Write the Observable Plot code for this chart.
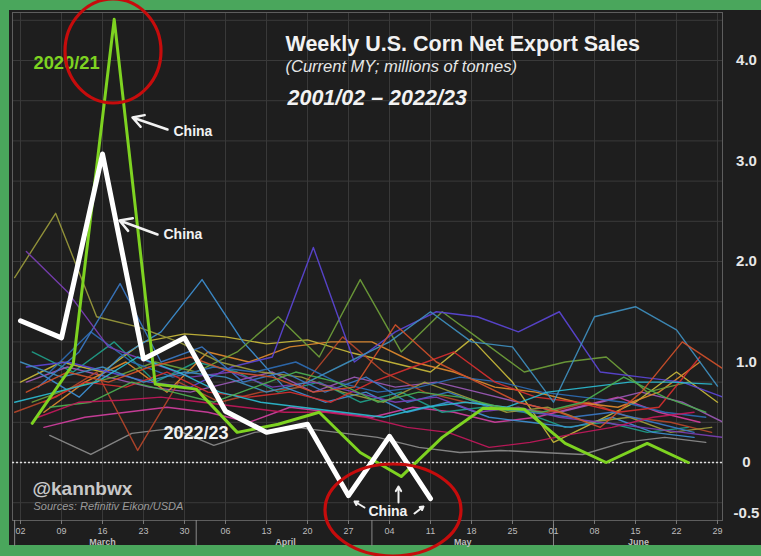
<!DOCTYPE html>
<html>
<head>
<meta charset="utf-8">
<script src="https://cdn.jsdelivr.net/npm/d3@7"></script>
<script src="https://cdn.jsdelivr.net/npm/@observablehq/plot@0.6"></script>
<style>
html, body { margin: 0; padding: 0; background: #4aa65c; }
#chart { position: absolute; left: 0; top: 0; }
</style>
</head>
<body>
<div id="chart"></div>
<script>
// ---------- DATA (millions of tonnes, weekly net export sales, current MY) ----------
const seasons = ["2001/02","2002/03","2003/04","2004/05","2005/06","2006/07","2007/08","2008/09","2009/10","2010/11",
                 "2011/12","2012/13","2013/14","2014/15","2015/16","2016/17","2017/18","2018/19","2019/20","2021/22"];
// day of March of the first weekly report date in each season's spring
const firstMarchDay = [7,6,4,3,2,1,6,5,4,3,1,7,6,5,3,2,1,7,5,3];

const s2001_02 = [0.27,0.08,0.29,0.34,0.17,0.30,0.35,0.30,0.25,0.15,0.10,0.12,0.10,0.08,0.20,0.25,0.20];
const s2002_03 = [0.35,0.45,0.50,0.55,0.50,0.40,0.55,0.50,0.45,0.55,0.50,0.40,0.45,0.55,0.65,0.50,0.40];
const s2003_04 = [1.10,0.90,1.20,0.80,1.00,0.90,0.70,0.80,0.60,0.70,0.50,0.55,0.50,0.35,0.40,0.30,0.35];
const s2004_05 = [0.80,0.95,0.85,0.75,0.70,0.80,0.90,0.70,0.85,0.75,0.80,0.70,0.60,0.50,0.60,0.70,0.60,0.40];
const s2005_06 = [0.80,1.00,0.90,1.20,1.28,1.25,1.18,1.22,1.10,1.00,0.90,1.23,0.80,0.20,0.40,0.60,0.90,0.60];
const s2006_07 = [0.50,0.65,0.90,0.12,0.80,0.60,0.70,0.75,1.25,0.90,0.70,0.60,0.55,0.50,0.60,0.45,0.40,0.30];
const s2007_08 = [0.50,0.80,1.00,0.70,1.10,1.00,1.15,1.20,1.20,1.00,0.90,0.75,0.70,0.60,0.55,0.70,1.00];
const s2008_09 = [0.90,0.65,1.05,1.30,1.82,1.20,0.75,0.60,0.70,0.50,0.60,0.45,0.40,0.35,0.45,0.30,0.25];
const s2009_10 = [0.60,0.75,0.85,1.00,0.90,1.10,1.45,1.05,1.82,1.10,1.50,1.20,0.90,1.00,1.05,0.70,0.80];
const s2010_11 = [0.95,1.00,0.90,0.80,0.75,0.95,1.05,2.14,1.00,1.30,1.50,1.45,1.30,1.50,0.90,0.85,0.80,0.65];
const s2011_12 = [1.84,2.48,1.45,1.35,1.20,1.00,0.90,0.85,0.70,0.60,0.80,0.65,0.50,0.55,0.40,0.45,0.30,0.35];
const s2012_13 = [0.90,1.30,1.00,0.85,0.95,0.90,1.00,0.80,0.70,0.75,0.85,0.80,0.70,0.65,0.60,0.50,0.45];
const s2013_14 = [0.60,0.80,0.75,0.90,0.70,0.65,0.70,0.60,0.80,0.95,1.10,0.80,0.65,0.60,0.50,0.55,1.05];
const s2014_15 = [0.75,1.10,1.78,1.00,1.15,0.80,0.90,0.70,0.85,0.60,0.70,0.55,0.50,0.45,0.50,0.40,0.30];
const s2015_16 = [2.10,1.70,1.15,1.00,0.85,0.90,0.75,0.80,0.70,0.60,0.65,0.50,0.55,0.45,0.40,0.35,0.30,0.25];
const s2016_17 = [1.00,0.85,0.95,0.80,0.90,0.85,0.70,0.80,1.00,1.20,1.50,1.20,1.15,0.60,1.45,1.55,1.32,0.76];
const s2017_18 = [0.60,0.70,0.80,1.05,0.90,0.70,0.60,0.55,0.50,0.45,0.55,0.60,0.55,0.70,0.75,0.80,0.80,0.78];
const s2018_19 = [0.55,0.60,0.80,0.70,0.60,0.75,0.90,0.80,0.60,0.70,0.65,0.55,0.50,0.60,0.85,0.65,0.50];
const s2019_20 = [0.45,0.60,0.62,0.65,0.60,0.55,0.50,0.50,0.45,0.35,0.30,0.15,0.20,0.28,0.35,0.45,0.50];
const s2021_22 = [0.70,0.90,0.80,0.95,1.05,0.90,0.85,0.70,0.75,1.37,1.00,0.80,0.60,0.50,0.35,0.70,1.20,0.93];
const seasonValues = [s2001_02,s2002_03,s2003_04,s2004_05,s2005_06,s2006_07,s2007_08,s2008_09,s2009_10,s2010_11,
                      s2011_12,s2012_13,s2013_14,s2014_15,s2015_16,s2016_17,s2017_18,s2018_19,s2019_20,s2021_22];

// highlighted seasons
const hlSeason = "2020/21";
const hlFirstMarchDay = 4;
const s2020_21 = [0.39,0.98,4.41,0.78,0.73,0.30,0.38,0.50,0.10,-0.14,0.25,0.54,0.53,0.19,0.00,0.19,0.00];
const curSeason = "2022/23";
const curFirstMarchDay = 2;
const s2022_23 = [1.41,1.24,3.07,1.03,1.24,0.51,0.30,0.38,-0.33,0.26,-0.36];

// axis ticks
const weekEnding = ["2023-03-02","2023-03-09","2023-03-16","2023-03-23","2023-03-30","2023-04-06","2023-04-13",
                    "2023-04-20","2023-04-27","2023-05-04","2023-05-11","2023-05-18","2023-05-25","2023-06-01",
                    "2023-06-08","2023-06-15","2023-06-22","2023-06-29"];
const monthNames = ["March","April","May","June"];
const monthCenters = ["2023-03-16","2023-04-16T06:00","2023-05-16T12:00","2023-06-15T12:00"];
const monthStarts = ["2023-03-01","2023-04-01","2023-05-01","2023-06-01"];
const yTicks = [-0.5, 0, 1, 2, 3, 4];

// ---------- STYLE ----------
const palette = ["#8c8c8c","#d13fa0","#1f9e89","#9b59b6","#c8b83a","#b5452a","#e08a2e","#3d8fd1","#6f9f3a","#5b45d6",
                 "#9a9a3c","#2e6db4","#d62f2f","#3a78c4","#7b3fb5","#3f8fbf","#2bbbd0","#4caf50","#c2185b","#d0502a"];
const FONT = "'Liberation Sans', Arial, sans-serif";
const W = 761, H = 556;
const mL = 12, mR = 39, mT = 12, mB = 36;
const DAY = 864e5;
const T0 = Date.UTC(2023, 2, 2);
const PXD = 5.857;   // px per day
const PXU = 100.5;   // px per million tonnes
const xDomain = [new Date(T0 - 8 / PXD * DAY), new Date(T0 + 702 / PXD * DAY)];
const yDomain = [-58 / PXU, 450 / PXU];
// page px -> data (for annotations only)
const xAt = px => new Date(T0 + (px - 20) / PXD * DAY);
const yAt = py => (462 - py) / PXU;

// ---------- BUILD ROWS ----------
const rows = [];
seasons.forEach((s, i) => {
  seasonValues[i].forEach((v, j) => rows.push({season: s, date: new Date(Date.UTC(2023, 2, firstMarchDay[i] + 7 * j)), value: v}));
});
const hlRows = s2020_21.map((v, j) => ({date: new Date(Date.UTC(2023, 2, hlFirstMarchDay + 7 * j)), value: v}));
const curRows = s2022_23.map((v, j) => ({date: new Date(Date.UTC(2023, 2, curFirstMarchDay + 7 * j)), value: v}));
const weekDates = weekEnding.map(d => new Date(d + "T00:00Z"));
const gridY = d3.range(-0.4, 4.5, 0.4);

const label = (txt, px, py, o = {}) => Plot.text([txt], {
  frameAnchor: "top-left", dx: px - mL, dy: py - mT, lineAnchor: "bottom", textAnchor: "start",
  fontFamily: FONT, ...o
});

const chart = Plot.plot({
  width: W, height: H,
  marginLeft: mL, marginRight: mR, marginTop: mT, marginBottom: mB,
  style: `background: linear-gradient(#1e1e1e,#1e1e1e) 9px 10px / 752px 535px no-repeat, #4aa65c; font-family: ${FONT}; overflow: visible;`,
  x: {type: "utc", domain: xDomain},
  y: {domain: yDomain},
  color: {domain: seasons, range: palette},
  marks: [
    Plot.gridY(gridY, {stroke: "#3a3a3a", strokeOpacity: 1}),
    Plot.gridX(weekDates, {stroke: "#3a3a3a", strokeOpacity: 1}),
    Plot.frame({stroke: "#5e5e5e"}),
    Plot.ruleX(monthStarts.map(d => new Date(d + "T00:00Z")), {y1: yDomain[0], y2: yDomain[0] - 26 / PXU, stroke: "#8a8a8a", strokeWidth: 1}),
    Plot.axisX({ticks: weekDates, tickFormat: d3.utcFormat("%d"), tickSize: 4, tickPadding: 3, fontSize: 9,
                fill: "#bdbdbd", stroke: "#7a7a7a", label: null, fontFamily: FONT}),
    Plot.text(monthNames, {x: (d, i) => new Date(monthCenters[i] + "Z"), frameAnchor: "bottom", dy: 24, lineAnchor: "bottom",
                fontSize: 9, fontWeight: "bold", fill: "#bdbdbd", fontFamily: FONT}),
    Plot.axisY({ticks: yTicks, anchor: "right", tickSize: 0, tickPadding: 0, textAnchor: "middle", dx: 24,
                tickFormat: d => d === 0 ? "0" : d.toFixed(1), fontSize: 15, fontWeight: "bold", fill: "#e6e6e6", label: null, fontFamily: FONT}),
    Plot.ruleY([0], {stroke: "#e0e0e0", strokeDasharray: "2,2", strokeWidth: 1.5}),
    Plot.line(rows, {x: "date", y: "value", z: "season", stroke: "season", strokeWidth: 1.4, strokeOpacity: 0.92, clip: true}),
    Plot.line(hlRows, {x: "date", y: "value", stroke: "#7ed321", strokeWidth: 3, clip: true}),
    Plot.line(curRows, {x: "date", y: "value", stroke: "#ffffff", strokeWidth: 5, clip: true}),
    // annotations
    label("Weekly U.S. Corn Net Export Sales", 285, 50, {fontSize: 21.5, fontWeight: "bold", fill: "#f2f2f2"}),
    label("(Current MY; millions of tonnes)", 285, 71, {fontSize: 16.5, fontStyle: "italic", fill: "#e6e6e6"}),
    label("2001/02 \u2013 2022/23", 287, 104, {fontSize: 21.5, fontWeight: "bold", fontStyle: "italic", fill: "#f2f2f2"}),
    label(hlSeason, 33, 68, {fontSize: 18.3, fontWeight: "bold", fill: "#7ed321"}),
    label(curSeason, 163, 438, {fontSize: 18, fontWeight: "bold", fill: "#f2f2f2"}),
    label("China", 173, 135, {fontSize: 14, fontWeight: "bold", fill: "#f2f2f2"}),
    label("China", 163, 238, {fontSize: 14, fontWeight: "bold", fill: "#f2f2f2"}),
    label("China", 368, 515, {fontSize: 14, fontWeight: "bold", fill: "#f2f2f2"}),
    label("@kannbwx", 32, 494, {fontSize: 19, fontWeight: "bold", fill: "#c8c8c8"}),
    label("Sources: Refinitiv Eikon/USDA", 33, 509, {fontSize: 11, fontStyle: "italic", fill: "#9a9a9a"}),
    Plot.arrow([
      {x1: xAt(167), y1: yAt(129), x2: xAt(132), y2: yAt(117)},
      {x1: xAt(157), y1: yAt(234), x2: xAt(119), y2: yAt(220)}
    ], {x1: "x1", y1: "y1", x2: "x2", y2: "y2", stroke: "#f2f2f2", strokeWidth: 2.5, headLength: 9, bend: 0}),
    Plot.arrow([
      {x1: xAt(364), y1: yAt(507), x2: xAt(354), y2: yAt(501)},
      {x1: xAt(398), y1: yAt(502), x2: xAt(398), y2: yAt(486)},
      {x1: xAt(414), y1: yAt(513), x2: xAt(423), y2: yAt(506)}
    ], {x1: "x1", y1: "y1", x2: "x2", y2: "y2", stroke: "#f2f2f2", strokeWidth: 2, headLength: 5})
  ]
});

// red highlight ellipses (annotation)
const svg = d3.select(chart);
[[113, 51, 48, 52], [393, 510, 68, 46]].forEach(([cx, cy, rx, ry]) => {
  svg.append("ellipse").attr("cx", cx).attr("cy", cy).attr("rx", rx).attr("ry", ry)
    .attr("fill", "none").attr("stroke", "#c60c0c").attr("stroke-width", 3.2);
});
document.getElementById("chart").appendChild(chart);
</script>
</body>
</html>
